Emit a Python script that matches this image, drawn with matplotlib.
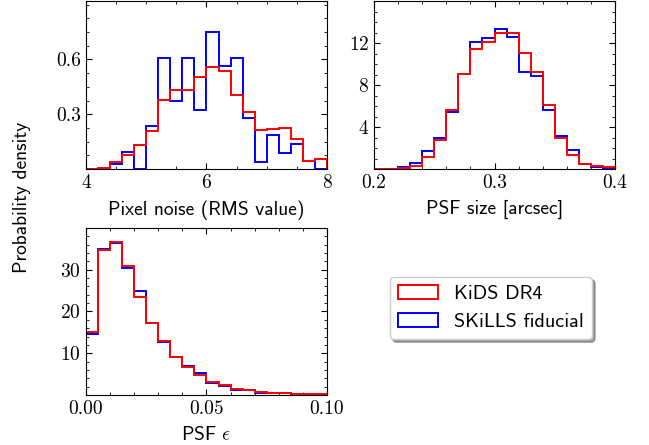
import numpy as np
import matplotlib
matplotlib.use("Agg")
import matplotlib.pyplot as plt
from matplotlib.ticker import AutoMinorLocator, MultipleLocator

plt.rcParams["font.family"] = "cmr10"
plt.rcParams["mathtext.fontset"] = "cm"
plt.rcParams["axes.formatter.use_mathtext"] = True
plt.rcParams["font.size"] = 14

# bin edges for the three panels (20 bins each)
noise_edges = np.linspace(4.0, 8.0, 21)
size_edges = np.linspace(0.2, 0.4, 21)
ell_edges = np.linspace(0.0, 0.1, 21)

# pixel noise densities
noise_kids = [0.0, 0.004, 0.038, 0.074, 0.133, 0.21, 0.377, 0.431, 0.431, 0.505,
              0.557, 0.535, 0.404, 0.314, 0.212, 0.217, 0.223, 0.167, 0.043, 0.056]
noise_skills = [0.0, 0.0, 0.03, 0.092, 0.0, 0.234, 0.609, 0.374, 0.609, 0.325,
                0.751, 0.564, 0.609, 0.28, 0.041, 0.185, 0.09, 0.138, 0.043, 0.0]

# PSF size densities
size_kids = [0.0, 0.0, 0.06, 0.32, 1.12, 2.72, 5.6, 9.06, 11.39, 12.06,
             13.0, 13.0, 11.07, 9.28, 6.14, 3.0, 1.34, 0.51, 0.26, 0.16]
size_skills = [0.0, 0.0, 0.19, 0.58, 1.76, 3.0, 5.44, 9.06, 12.06, 12.5,
               13.3, 12.54, 9.28, 8.83, 5.6, 3.17, 1.82, 0.51, 0.19, 0.1]

# PSF ellipticity densities
ell_kids = [15.0, 34.7, 36.7, 30.9, 23.5, 17.2, 12.9, 9.2, 6.6, 4.8,
            3.2, 2.3, 1.4, 1.2, 0.72, 0.56, 0.4, 0.3, 0.2, 0.15]
ell_skills = [14.7, 35.0, 36.4, 30.3, 25.0, 17.2, 12.8, 9.2, 6.9, 5.2,
              2.9, 2.1, 1.2, 1.2, 0.56, 0.5, 0.4, 0.3, 0.2, 0.15]

LABEL_FONT = "cmss10"

fig = plt.figure(figsize=(6.49, 4.45), dpi=100)
ax_noise = fig.add_axes([0.1325, 0.6202, 0.3713, 0.3775])
ax_size = fig.add_axes([0.5763, 0.6202, 0.3713, 0.3775])
ax_ell = fig.add_axes([0.1325, 0.1124, 0.3713, 0.3753])


def draw_panel(ax, edges, skills, kids, xlim, ylim, xmajor, yticks, xlabel, xfmt):
    centres = 0.5 * (edges[:-1] + edges[1:])
    _, _, hs = ax.hist(centres, bins=edges, weights=skills, histtype="step",
                       color="blue", linewidth=1.4)
    _, _, hk = ax.hist(centres, bins=edges, weights=kids, histtype="step",
                       color="red", linewidth=1.4)
    ax.set_xlim(*xlim)
    ax.set_ylim(*ylim)
    ax.xaxis.set_major_locator(MultipleLocator(xmajor))
    ax.set_yticks(yticks)
    ax.set_xticklabels([xfmt.format(t) for t in ax.get_xticks()])
    ax.xaxis.set_minor_locator(AutoMinorLocator())
    ax.yaxis.set_minor_locator(AutoMinorLocator())
    ax.tick_params(which="both", direction="in", top=True, right=True)
    ax.tick_params(which="major", length=4.5)
    ax.tick_params(which="minor", length=2.5)
    ax.set_xlabel(xlabel, fontfamily=LABEL_FONT, fontsize=14, labelpad=6)
    return hk[0], hs[0]


hk, hs = draw_panel(ax_noise, noise_edges, noise_skills, noise_kids,
                    (4, 8), (0, 0.92), 2, [0.3, 0.6],
                    "Pixel noise (RMS value)", "{:.0f}")
ax_noise.set_yticklabels(["0.3", "0.6"])
draw_panel(ax_size, size_edges, size_skills, size_kids,
           (0.2, 0.4), (0, 16), 0.1, [4, 8, 12],
           "PSF size [arcsec]", "{:.1f}")
draw_panel(ax_ell, ell_edges, ell_skills, ell_kids,
           (0.0, 0.1), (0, 40), 0.05, [10, 20, 30],
           r"PSF $\epsilon$", "{:.2f}")

fig.text(0.034, 0.557, "Probability density", rotation=90, ha="center",
         va="center", fontfamily=LABEL_FONT, fontsize=14)

leg = fig.legend([hk, hs], ["KiDS DR4", "SKiLLS fiducial"],
                 loc="upper left", bbox_to_anchor=(390 / 649, 1 - 277 / 445),
                 borderaxespad=0, shadow=True, fancybox=True, framealpha=1,
                 prop={"family": LABEL_FONT, "size": 14.5})

fig.savefig("out.png", dpi=100)
